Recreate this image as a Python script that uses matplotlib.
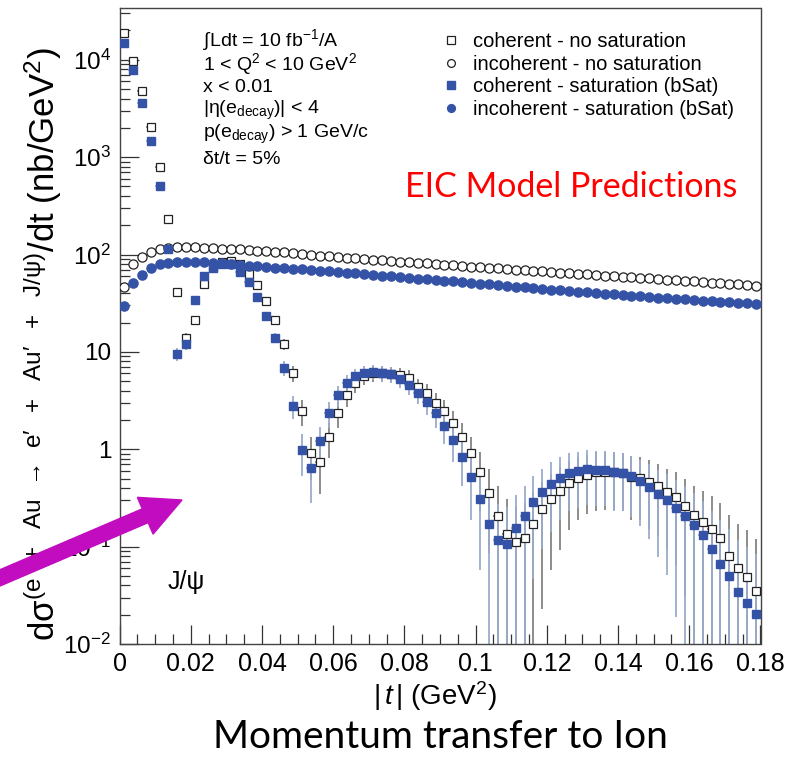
import numpy as np
import matplotlib.pyplot as plt
from matplotlib.patches import FancyArrow
from matplotlib.ticker import FixedLocator, LogLocator, NullFormatter

plt.rcParams['font.family'] = ['Liberation Sans', 'DejaVu Sans']
plt.rcParams['mathtext.fontset'] = 'custom'
plt.rcParams['mathtext.rm'] = 'Liberation Sans'
plt.rcParams['mathtext.it'] = 'Liberation Sans:italic'
plt.rcParams['mathtext.bf'] = 'Liberation Sans:bold'
plt.rcParams['mathtext.default'] = 'regular'

W, H = 789, 759

# |t| binning: 72 bins of 0.0025 GeV^2
BIN_WIDTH = 0.0025
N_BINS = 72
t_centers = np.arange(N_BINS) * BIN_WIDTH + BIN_WIDTH / 2

# coherent, no saturation
coh_nosat = [
    18800, 9700, 4760, 2030, 790, 231, 41.2, 13.9, 21.2, 49.8, 74.5, 83.7,
    85.8, 79.8, 63.0, 48.5, 33.2, 21.2, 12.1, 6.07, 2.46, 0.914, 0.74, 1.33,
    2.35, 3.60, 4.79, 5.65, 6.07, 6.07, 5.97, 5.79, 5.40, 4.36, 3.79, 2.99,
    2.46, 1.86, 1.33, 0.914, 0.583, 0.355, 0.206, 0.135, 0.111, 0.122, 0.171, 0.243,
    0.308, 0.373, 0.449, 0.507, 0.544, 0.583, 0.585, 0.585, 0.570, 0.518, 0.507, 0.461,
    0.419, 0.364, 0.323, 0.261, 0.211, 0.179, 0.152, 0.122, 0.080, 0.0605, 0.0487, 0.0348,
]
coh_nosat_err = [
    62, 44, 31, 20, 12.6, 6.8, 2.9, 1.7, 2.1, 3.2, 3.9, 4.1,
    4.2, 4.0, 3.6, 3.1, 2.6, 2.1, 1.6, 1.11, 0.71, 0.43, 0.39, 0.52,
    0.69, 0.86, 0.99, 1.07, 1.11, 1.11, 1.10, 1.09, 1.05, 0.94, 0.88, 0.78,
    0.71, 0.62, 0.52, 0.43, 0.35, 0.27, 0.21, 0.17, 0.15, 0.16, 0.19, 0.22,
    0.25, 0.28, 0.30, 0.32, 0.33, 0.35, 0.35, 0.35, 0.34, 0.33, 0.32, 0.31,
    0.29, 0.27, 0.26, 0.23, 0.21, 0.19, 0.18, 0.16, 0.13, 0.11, 0.10, 0.084,
]

# coherent, saturation (bSat)
coh_sat = [
    14800, 7820, 3590, 1460, 504, 113.6, 9.5, 12.1, 34.1, 60.0, 72.6, 79.8,
    79.8, 66.1, 52.1, 36.5, 23.4, 13.9, 6.84, 2.78, 0.982, 0.643, 1.21, 2.35,
    3.60, 4.79, 5.65, 6.07, 6.22, 6.07, 5.92, 5.27, 4.57, 3.79, 3.05, 2.35,
    1.73, 1.245, 0.833, 0.519, 0.308, 0.171, 0.117, 0.106, 0.155, 0.206, 0.287, 0.364,
    0.440, 0.507, 0.570, 0.597, 0.626, 0.613, 0.613, 0.583, 0.570, 0.531, 0.472, 0.410,
    0.348, 0.301, 0.249, 0.206, 0.166, 0.132, 0.0945, 0.0663, 0.0500, 0.0342, 0.0264, 0.0203,
]
coh_sat_err = [
    55, 40, 27, 17, 10.1, 4.8, 1.4, 1.6, 2.6, 3.5, 3.8, 4.0,
    4.0, 3.7, 3.2, 2.7, 2.2, 1.7, 1.18, 0.75, 0.45, 0.36, 0.50, 0.69,
    0.86, 0.99, 1.07, 1.11, 1.12, 1.11, 1.10, 1.04, 0.97, 0.88, 0.79, 0.69,
    0.59, 0.50, 0.41, 0.33, 0.25, 0.19, 0.155, 0.147, 0.18, 0.21, 0.24, 0.27,
    0.30, 0.32, 0.34, 0.35, 0.36, 0.35, 0.35, 0.35, 0.34, 0.33, 0.31, 0.29,
    0.27, 0.25, 0.23, 0.21, 0.19, 0.16, 0.14, 0.12, 0.10, 0.084, 0.073, 0.064,
]

# incoherent, no saturation
incoh_nosat = [
    46.3, 79.5, 94.0, 106, 113.5, 116, 119, 119, 119, 116, 116, 113.5,
    113.5, 113.5, 111.5, 108.5, 108.5, 106, 106, 104, 101, 98.5, 96.5, 96.5,
    94.0, 92.0, 92.0, 90.0, 88.0, 88.0, 86.0, 83.0, 83.0, 81.5, 81.5, 79.5,
    77.5, 77.5, 75.5, 74.3, 74.3, 72.9, 72.9, 71.0, 69.2, 69.2, 67.3, 67.3,
    66.3, 64.4, 64.4, 62.6, 62.6, 61.6, 59.8, 59.8, 58.8, 58.8, 56.9, 56.9,
    56.0, 55.0, 55.0, 53.1, 53.1, 52.2, 51.2, 51.2, 49.3, 49.3, 48.4, 47.4,
]

# incoherent, saturation (bSat)
incoh_sat = [
    29.5, 51.3, 61.8, 73.2, 79.8, 81.7, 83.6, 83.6, 83.6, 83.6, 81.7, 81.7,
    79.8, 77.9, 76.0, 76.0, 74.6, 73.2, 73.2, 71.3, 71.3, 69.4, 67.5, 67.5,
    66.5, 64.6, 64.6, 62.7, 61.8, 59.9, 59.9, 58.9, 57.0, 56.1, 56.1, 55.1,
    53.2, 53.2, 52.3, 51.3, 49.4, 49.4, 48.5, 47.5, 46.6, 46.6, 45.2, 44.2,
    43.2, 43.2, 42.1, 41.2, 41.2, 40.2, 39.3, 39.3, 38.4, 37.5, 37.5, 36.6,
    35.7, 35.7, 34.9, 34.9, 34.1, 33.2, 33.2, 32.5, 32.5, 31.7, 31.7, 31.0,
]

x_ticks = [0, 0.02, 0.04, 0.06, 0.08, 0.1, 0.12, 0.14, 0.16, 0.18]
x_tick_labels = ['0', '0.02', '0.04', '0.06', '0.08', '0.1', '0.12', '0.14', '0.16', '0.18']
y_ticks = [1e-2, 1e-1, 1, 10, 1e2, 1e3, 1e4]
y_tick_labels = ['$10^{-2}$', '$10^{-1}$', '1', '10', '$10^{2}$', '$10^{3}$', '$10^{4}$']

BLUE = '#3452a6'
BLUE_ERR = '#9aabcb'
GREY_ERR = '#6e6e6e'


def fx(px):
    return px / W


def fy(py):
    return 1 - py / H


def yerr_pair(vals, errs):
    # lower bars that would go negative run down to the bottom of the frame
    vals = np.asarray(vals, float)
    errs = np.asarray(errs, float)
    lo = np.where(errs >= vals, vals * 0.9999, errs)
    return [lo, errs]


fig = plt.figure(figsize=(W / 100, H / 100), dpi=100)
ax = fig.add_axes([fx(119.5), fy(644), fx(760.5) - fx(119.5), fy(8) - fy(644)])

ax.errorbar(t_centers, coh_nosat, yerr=yerr_pair(coh_nosat, coh_nosat_err),
            xerr=BIN_WIDTH / 2, fmt='none', ecolor=GREY_ERR, elinewidth=1.1,
            capsize=0, zorder=2)
ax.errorbar(t_centers, coh_sat, yerr=yerr_pair(coh_sat, coh_sat_err),
            xerr=BIN_WIDTH / 2, fmt='none', ecolor=BLUE_ERR, elinewidth=1.3,
            capsize=0, zorder=2)

h1, = ax.plot(t_centers, coh_nosat, 's', ms=6.4, mfc='white', mec='#222222',
              mew=0.9, zorder=3, label='coherent - no saturation')
h2, = ax.plot(t_centers, incoh_nosat, 'o', ms=6.6, mfc='white', mec='#222222',
              mew=0.9, zorder=3, label='incoherent - no saturation')
h3, = ax.plot(t_centers, coh_sat, 's', ms=6.2, color=BLUE, mec=BLUE, zorder=4,
              label='coherent - saturation (bSat)')
h4, = ax.plot(t_centers, incoh_sat, 'o', ms=6.6, color=BLUE, mec=BLUE, zorder=4,
              label='incoherent - saturation (bSat)')

ax.set_yscale('log')
ax.set_xlim(0, 0.18)
ax.set_ylim(0.01, 3.4e4)
ax.set_xticks(x_ticks)
ax.set_xticklabels(x_tick_labels)
ax.xaxis.set_minor_locator(FixedLocator(np.arange(0, 0.1801, 0.005)))
ax.set_yticks(y_ticks)
ax.set_yticklabels(y_tick_labels)
ax.yaxis.set_minor_locator(LogLocator(base=10, subs=np.arange(2, 10)))
ax.yaxis.set_minor_formatter(NullFormatter())
ax.tick_params(which='both', direction='in', top=False, right=False, color='#333333')
ax.tick_params(which='major', length=14, width=0.9, labelsize=18, pad=6)
ax.tick_params(axis='y', which='major', labelsize=17.5)
ax.tick_params(which='minor', length=7, width=0.9)
for sp in ax.spines.values():
    sp.set_color('#444444')
    sp.set_linewidth(1.0)

ax.legend(handles=[h1, h2, h3, h4], loc='upper left',
          bbox_to_anchor=(fx(443), fy(32)), bbox_transform=fig.transFigure,
          frameon=False, fontsize=14.5, handlelength=0.8, handletextpad=0.7,
          labelspacing=0.18, borderpad=0, borderaxespad=0, markerscale=0.85)

cuts = [
    (40, r'$\int$Ldt = 10 fb$^{-1}$/A'),
    (64, r'1 < Q$^{2}$ < 10 GeV$^{2}$'),
    (87, 'x < 0.01'),
    (110, r'|η(e$_{decay}$)| < 4'),
    (134, r'p(e$_{decay}$) > 1 GeV/c'),
    (159, 'δt/t = 5%'),
]
for py, txt in cuts:
    fig.text(fx(203), fy(py), txt, fontsize=14, va='center', ha='left')

fig.text(fx(168), fy(582), 'J/ψ', fontsize=18, va='center', ha='left')

fig.text(fx(405), fy(187), 'EIC Model Predictions', color='#ff0000',
         fontsize=24.5, family='Lato', va='center', ha='left')

fig.text(fx(435), fy(696), r'|$\,\mathit{t}\,$| (GeV$^{2}$)', fontsize=20,
         ha='center', va='center')
fig.text(fx(440), fy(737), 'Momentum transfer to Ion', fontsize=28,
         family='Lato', ha='center', va='center')

fig.text(fx(43), fy(344),
         r"dσ$^{(e\ \ +\ \ Au\ \ →\ \ e′\ \ +\ \ Au′\ \ +\ \ J/ψ)}$/dt (nb/GeV$^{2}$)",
         rotation=90, fontsize=25, ha='center', va='center')

# pointer arrow drawn in inches so the head keeps its shape
arrow = FancyArrow(-0.05, 1.79, 1.87, 0.80, width=0.15, head_width=0.40,
                   head_length=0.40, length_includes_head=True,
                   color='#c10cbf', transform=fig.dpi_scale_trans,
                   clip_on=False, zorder=10)
fig.add_artist(arrow)

fig.savefig('out.png', dpi=100)
